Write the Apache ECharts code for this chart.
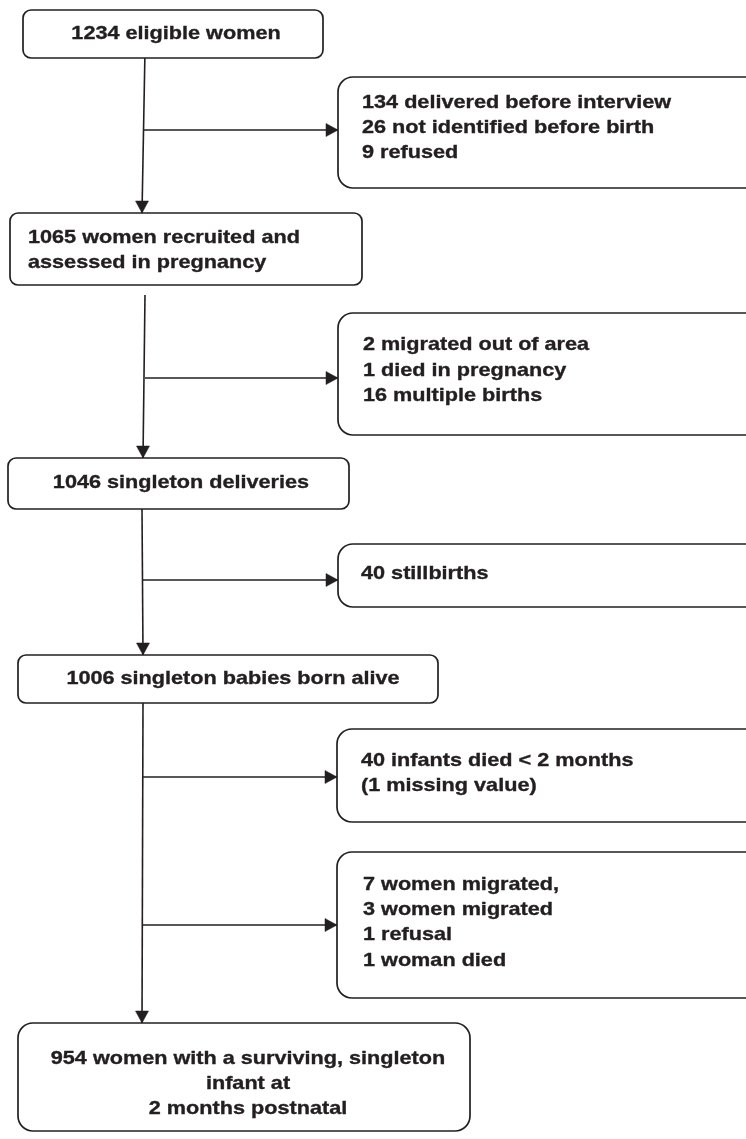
<!DOCTYPE html>
<html>
<head>
<meta charset="utf-8">
<script src="https://cdn.jsdelivr.net/npm/echarts@6/dist/echarts.min.js"></script>
<style>
html,body{margin:0;padding:0;background:#fff;}
#chart{width:746px;height:1139px;}
</style>
</head>
<body>
<div id="chart"></div>
<script>
// ---- content (texts of the flow diagram) ----
const mainSteps = [
  "1234 eligible women",
  "1065 women recruited and\nassessed in pregnancy",
  "1046 singleton deliveries",
  "1006 singleton babies born alive",
  "954 women with a surviving, singleton\ninfant at\n2 months postnatal"
];
const exclusions = [
  "134 delivered before interview\n26 not identified before birth\n9 refused",
  "2 migrated out of area\n1 died in pregnancy\n16 multiple births",
  "40 stillbirths",
  "40 infants died < 2 months\n(1 missing value)",
  "7 women migrated,\n3 women migrated\n1 refusal\n1 woman died"
];

// ---- layout (pixel-space coordinates on a hidden 1:1 axis) ----
const mainLayout = [
  {x0:23, y0:10,  x1:323, y1:58,   r:8,  align:'center', tx:176, ty:34,   lh:25},
  {x0:10, y0:213, x1:362, y1:285,  r:8,  align:'left',   tx:28,  ty:238,  lh:25},
  {x0:8,  y0:458, x1:349, y1:509,  r:8,  align:'center', tx:181, ty:483,  lh:25},
  {x0:18, y0:655, x1:438, y1:703,  r:8,  align:'center', tx:233, ty:679,  lh:25},
  {x0:18, y0:1023,x1:470, y1:1131, r:15, align:'center', tx:248, ty:1059, lh:25}
];
const sideLayout = [
  {x0:338, y0:77,  x1:775, y1:188, r:15, tx:362, ty:103, lh:25, ay:130},
  {x0:338, y0:313, x1:775, y1:435, r:15, tx:363, ty:345, lh:25.5, ay:378},
  {x0:338, y0:544, x1:775, y1:607, r:15, tx:361, ty:574, lh:25, ay:580},
  {x0:337, y0:729, x1:775, y1:822, r:15, tx:361, ty:761, lh:25, ay:777},
  {x0:337, y0:852, x1:775, y1:998, r:15, tx:363, ty:885, lh:25.2, ay:925}
];
const spine = [
  [[145,50],[142,213]],
  [[145,295],[143,458]],
  [[142,509],[143,655]],
  [[143,703],[142,1023]]
];
const branchX = [144, 145, 143, 143, 143];

const INK = '#231f20';
const FONT = {fontFamily:'"Liberation Sans", Arial, sans-serif', fontWeight:'bold', fontSize:18.5};
const SX = 1.17;
const AL = 12, AW = 6.5;

function textLines(api, str, L, align){
  return str.split('\n').map((s,k)=>{
    const p = api.coord([L.tx, L.ty + k*L.lh]);
    return {type:'text', x:p[0], y:p[1], scaleX:SX,
      style:Object.assign({text:s, fill:INK, stroke:INK, lineWidth:0.35, align:align, verticalAlign:'middle'}, FONT)};
  });
}
function boxRect(api, L){
  const p0 = api.coord([L.x0, L.y0]), p1 = api.coord([L.x1, L.y1]);
  return {type:'rect', shape:{x:p0[0], y:p0[1], width:p1[0]-p0[0], height:p1[1]-p0[1], r:L.r},
    style:{fill:'#fff', stroke:INK, lineWidth:1.7}};
}
function arrowHead(tip, dir){
  const [x,y] = tip;
  let pts;
  if(dir==='down') pts=[[x-AW,y-AL],[x,y],[x+AW,y-AL]];
  else pts=[[x-AL,y-AW],[x,y],[x-AL,y+AW]];
  return {type:'polygon', shape:{points:pts}, style:{fill:INK, stroke:INK, lineWidth:0.5}};
}

const chart = echarts.init(document.getElementById('chart'), null, {renderer:'canvas'});
chart.setOption({
  animation:false,
  backgroundColor:'#fff',
  grid:{left:0, right:0, top:0, bottom:0},
  xAxis:{type:'value', min:0, max:746, show:false},
  yAxis:{type:'value', min:0, max:1139, inverse:true, show:false},
  series:[
    { // connectors
      type:'custom', silent:true, clip:false, z:1,
      data: spine.map((s,i)=>[i,i]),
      renderItem:function(params, api){
        const i = api.value(0);
        const a = api.coord(spine[i][0]), b = api.coord(spine[i][1]);
        const children = [
          {type:'line', shape:{x1:a[0], y1:a[1], x2:b[0], y2:b[1]}, style:{stroke:INK, lineWidth:1.6}},
          arrowHead(b,'down')
        ];
        const segs = i===3 ? [3,4] : [i];
        segs.forEach(j=>{
          const S = sideLayout[j];
          const h0 = api.coord([branchX[j], S.ay]), h1 = api.coord([S.x0, S.ay]);
          children.push({type:'line', shape:{x1:h0[0], y1:h0[1], x2:h1[0], y2:h1[1]}, style:{stroke:INK, lineWidth:1.6}});
          children.push(arrowHead(h1,'right'));
        });
        return {type:'group', children};
      }
    },
    { // main flow boxes
      type:'custom', silent:true, clip:false, z:2,
      data: mainSteps.map((t,i)=>[i,i]),
      renderItem:function(params, api){
        const i = api.value(0), L = mainLayout[i];
        return {type:'group', children:[boxRect(api, L)].concat(textLines(api, mainSteps[i], L, L.align))};
      }
    },
    { // exclusion boxes
      type:'custom', silent:true, clip:false, z:2,
      data: exclusions.map((t,i)=>[i,i]),
      renderItem:function(params, api){
        const i = api.value(0), L = sideLayout[i];
        return {type:'group', children:[boxRect(api, L)].concat(textLines(api, exclusions[i], L, 'left'))};
      }
    }
  ]
});
</script>
</body>
</html>
